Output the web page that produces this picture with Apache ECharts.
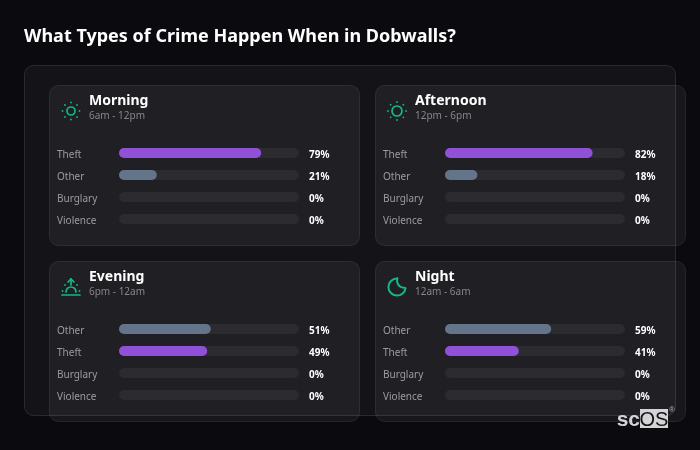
<!DOCTYPE html>
<html>
<head>
<meta charset="utf-8">
<style>html,body{margin:0;padding:0;background:#0a0a0f}#c{width:700px;height:450px}</style>
<script src="https://cdn.jsdelivr.net/npm/echarts@6/dist/echarts.min.js"></script>
</head>
<body>
<div id="c"></div>
<script>
var chartTitle = 'What Types of Crime Happen When in Dobwalls?';
var periodNames = ['Morning', 'Afternoon', 'Evening', 'Night'];
var periodHours = ['6am - 12pm', '12pm - 6pm', '6pm - 12am', '12am - 6am'];
var morningCrimes = ['Theft', 'Other', 'Burglary', 'Violence'];
var morningShares = [79, 21, 0, 0];
var afternoonCrimes = ['Theft', 'Other', 'Burglary', 'Violence'];
var afternoonShares = [82, 18, 0, 0];
var eveningCrimes = ['Other', 'Theft', 'Burglary', 'Violence'];
var eveningShares = [51, 49, 0, 0];
var nightCrimes = ['Other', 'Theft', 'Burglary', 'Violence'];
var nightShares = [59, 41, 0, 0];

var FONT = '"Noto Sans", sans-serif';
var GREEN = '#14b88a', PURPLE = '#9150d8', SLATE = '#64748b', TRACK = '#2b2b30';
var crimes = [morningCrimes, afternoonCrimes, eveningCrimes, nightCrimes];
var shares = [morningShares, afternoonShares, eveningShares, nightShares];
var cardX = [49, 375, 49, 375], cardY = [85, 85, 261, 261];

var grids = [], xAxes = [], yAxes = [], series = [];
var g = [];
g.push({type:'rect', z:0, shape:{x:24.5,y:65.5,width:651,height:350,r:9},
  style:{fill:'#131318',stroke:'#2a2a2f',lineWidth:1}});

function dots(cx, cy, rad, list) {
  list.forEach(function (deg) {
    var a = deg * Math.PI / 180;
    g.push({type:'circle', z:3, shape:{cx:cx+rad*Math.cos(a), cy:cy+rad*Math.sin(a), r:0.9}, style:{fill:GREEN}});
  });
}
function sun(cx, cy, r, rad) {
  g.push({type:'circle', z:3, shape:{cx:cx,cy:cy,r:r}, style:{fill:'none',stroke:GREEN,lineWidth:1.7}});
  dots(cx, cy, rad, [0,45,90,135,180,225,270,315]);
}
function line(x1,y1,x2,y2){
  g.push({type:'line', z:3, shape:{x1:x1,y1:y1,x2:x2,y2:y2}, style:{stroke:GREEN,lineWidth:1.7,lineCap:'round'}});
}
function arc(cx,cy,r,d1,d2,cw,w){
  g.push({type:'arc', z:3, shape:{cx:cx,cy:cy,r:r,startAngle:d1*Math.PI/180,endAngle:d2*Math.PI/180,clockwise:cw},
    style:{fill:'none',stroke:GREEN,lineWidth:w,lineCap:'round'}});
}
function token(v){ return '{a|' + v + '}'; }

periodNames.forEach(function (name, i) {
  var x = cardX[i], y = cardY[i];
  g.push({type:'rect', z:1, shape:{x:x+.5,y:y+.5,width:310,height:160,r:9},
    style:{fill:'rgba(255,255,255,0.055)',stroke:'rgba(255,255,255,0.09)',lineWidth:1}});
  g.push({type:'text', z:3, x:x+40, y:y+16, style:{text:name,fill:'#ffffff',font:'700 14px '+FONT,textAlign:'left',textVerticalAlign:'middle'}});
  g.push({type:'text', z:3, x:x+40, y:y+31, style:{text:periodHours[i],fill:'#85858c',font:'400 10px '+FONT,textAlign:'left',textVerticalAlign:'middle'}});

  var top = y + 57;
  grids.push({left:x+70, top:top, width:180, height:88, containLabel:false});
  xAxes.push({type:'value', gridIndex:i, min:0, max:100, show:false});
  yAxes.push({type:'category', gridIndex:i, inverse:true, position:'left', data:crimes[i],
    axisLine:{show:false}, axisTick:{show:false}, splitLine:{show:false},
    axisLabel:{align:'left', margin:62, formatter:token,
      rich:{a:{color:'#96969c', fontSize:10, fontFamily:FONT, padding:[4,0,0,0]}}}});
  yAxes.push({type:'category', gridIndex:i, inverse:true, position:'right', data:shares[i].map(function(v){return v+'%';}),
    axisLine:{show:false}, axisTick:{show:false}, splitLine:{show:false},
    axisLabel:{align:'left', margin:10, formatter:token,
      rich:{a:{color:'#ffffff', fontSize:10, fontWeight:700, fontFamily:FONT, padding:[4,0,0,0]}}}});
  series.push({type:'bar', xAxisIndex:i, yAxisIndex:i*2, barWidth:10, silent:true, z:4,
    showBackground:true, backgroundStyle:{color:TRACK, borderRadius:5},
    data:shares[i].map(function(v,j){
      return {value:v, itemStyle:{color:crimes[i][j]==='Theft'?PURPLE:SLATE, borderRadius:5}};
    })});
});

// period icons
sun(71, 111, 4, 8.5);
sun(397, 111, 5, 9);
// evening
line(62, 295, 80, 295);
arc(71, 292, 5, 180, 360, true, 1.7);
line(71, 279, 71, 285);
line(68, 282, 71, 279);
line(74, 282, 71, 279);
dots(71, 291, 8.5, [180, 0, 225, 315]);
// night: outer disc and the bite taken out of it
arc(397, 287, 8.6, -90, 7.5, false, 2);
arc(404.2, 280.6, 7.2, 199.4, 89.8, false, 2);

// logo
g.push({type:'rect', z:6, shape:{x:640,y:409,width:28,height:19}, style:{fill:'#d4d4d6'}});
g.push({type:'text', z:7, x:640, y:420, style:{text:'sc',fill:'#d4d4d6',font:'700 21px "Liberation Sans", sans-serif',textAlign:'right',textVerticalAlign:'middle'}});
g.push({type:'text', z:7, x:654, y:420, style:{text:'OS',fill:'#141416',font:'400 20px "Liberation Sans", sans-serif',textAlign:'center',textVerticalAlign:'middle'}});
g.push({type:'text', z:7, x:672, y:410, style:{text:'®',fill:'#b0b0b4',font:'400 8px "Liberation Sans", sans-serif',textAlign:'center',textVerticalAlign:'middle'}});

var chart = echarts.init(document.getElementById('c'), null, {renderer:'canvas'});
chart.setOption({
  animation:false,
  backgroundColor:'#0a0a0f',
  title:{text:chartTitle, left:24, top:25, padding:0,
    textStyle:{color:'#ffffff', fontSize:18, fontWeight:700, fontFamily:FONT, lineHeight:24}},
  graphic:{elements:g},
  grid:grids, xAxis:xAxes, yAxis:yAxes, series:series
});
</script>
</body>
</html>
